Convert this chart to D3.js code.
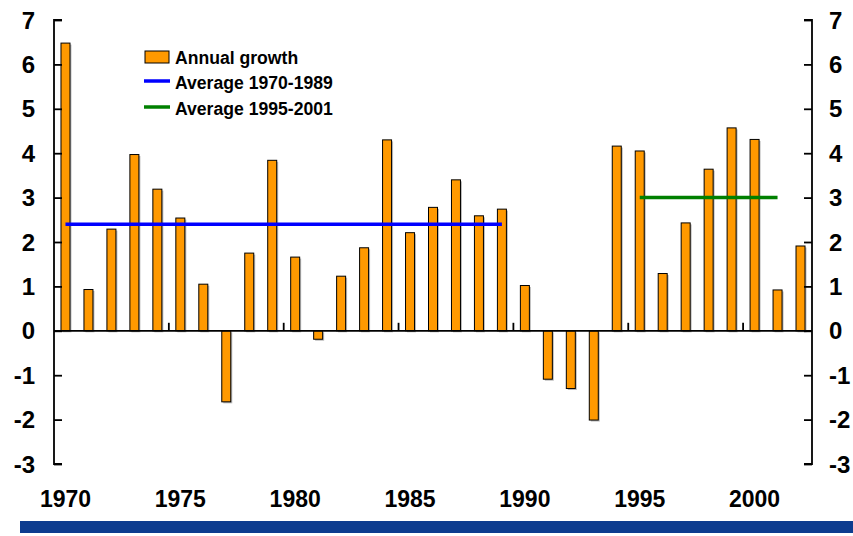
<!DOCTYPE html>
<html><head><meta charset="utf-8">
<script src="https://cdn.jsdelivr.net/npm/d3@7"></script>
<style>body{margin:0;background:#fff;} svg{display:block;font-family:"Liberation Sans",Arial,sans-serif;font-weight:bold;}</style>
</head><body><svg id="c" width="853" height="536"></svg>
<script>
const years = d3.range(1970, 2003);
const growth = [6.48, 0.93, 2.29, 3.97, 3.19, 2.54, 1.05, -1.60, 1.75, 3.84,
  1.66, -0.19, 1.23, 1.87, 4.30, 2.21, 2.78, 3.40, 2.59, 2.74,
  1.02, -1.09, -1.30, -2.01, 4.16, 4.05, 1.29, 2.43, 3.64, 4.57,
  4.31, 0.92, 1.91];
const avg1 = {from: 1970, to: 1989, value: 2.4};
const avg2 = {from: 1995, to: 2001, value: 3.0};
const yTicks = [-3, -2, -1, 0, 1, 2, 3, 4, 5, 6, 7];
const xLabels = [1970, 1975, 1980, 1985, 1990, 1995, 2000];
const legendItems = ["Annual growth", "Average 1970-1989", "Average 1995-2001"];

const svg = d3.select("#c");
const L = 54, R = 812, T = 20, B = 464;
const xb = d3.scaleBand().domain(years).range([L, R]);
const y = d3.scaleLinear().domain([-3, 7]).range([B, T]);
const cx = d => xb(d) + xb.bandwidth()/2;

// bars shadow
svg.append("g").selectAll("rect").data(years).join("rect")
  .attr("x", d => cx(d) - 4.5 + 1.5)
  .attr("y", (d,i) => Math.min(y(growth[i]), y(0)) + 1.5)
  .attr("width", 9)
  .attr("height", (d,i) => Math.abs(y(growth[i]) - y(0)))
  .attr("fill", "#bbb");
svg.append("g").selectAll("rect").data(years).join("rect")
  .attr("x", d => cx(d) - 4.5)
  .attr("y", (d,i) => Math.min(y(growth[i]), y(0)))
  .attr("width", 9)
  .attr("height", (d,i) => Math.abs(y(growth[i]) - y(0)))
  .attr("fill", "#ff9900").attr("stroke", "#000").attr("stroke-width", 1);

// average lines
svg.append("line").attr("x1", cx(avg1.from)).attr("x2", cx(avg1.to))
  .attr("y1", y(avg1.value)).attr("y2", y(avg1.value))
  .attr("stroke", "#0000ff").attr("stroke-width", 3.5);
svg.append("line").attr("x1", cx(avg2.from)).attr("x2", cx(avg2.to))
  .attr("y1", y(avg2.value)).attr("y2", y(avg2.value))
  .attr("stroke", "#008000").attr("stroke-width", 3.5);

// left axis
const la = svg.append("g").attr("transform", `translate(${L},0)`)
  .call(d3.axisRight(y).tickValues(yTicks).tickSize(8).tickFormat(""));
la.select(".domain").attr("d", `M8,${T}H0V${B}H8`);
la.selectAll("line, path").attr("stroke", "#000").attr("stroke-width", 1.8);
svg.append("g").selectAll("text").data(yTicks).join("text")
  .attr("x", 35).attr("y", d => y(d) + 8.5).attr("text-anchor", "end")
  .attr("font-size", 24).text(d => d);

// right axis
const ra = svg.append("g").attr("transform", `translate(${R},0)`)
  .call(d3.axisLeft(y).tickValues(yTicks).tickSize(8).tickFormat(""));
ra.select(".domain").attr("d", `M-8,${T}H0V${B}H-8`);
ra.selectAll("line, path").attr("stroke", "#000").attr("stroke-width", 1.8);
svg.append("g").selectAll("text").data(yTicks).join("text")
  .attr("x", 829).attr("y", d => y(d) + 8.5).attr("text-anchor", "start")
  .attr("font-size", 24).text(d => d);

// x axis at zero
svg.append("line").attr("x1", L).attr("x2", R).attr("y1", y(0)).attr("y2", y(0))
  .attr("stroke", "#000").attr("stroke-width", 1.8);
svg.append("g").selectAll("line").data(xLabels.slice(1)).join("line")
  .attr("x1", d => xb(d)).attr("x2", d => xb(d))
  .attr("y1", y(0)).attr("y2", y(0) - 8)
  .attr("stroke", "#000").attr("stroke-width", 1.8);
svg.append("g").selectAll("text").data(xLabels).join("text")
  .attr("x", d => cx(d)).attr("y", 507).attr("text-anchor", "middle")
  .attr("font-size", 23).text(d => d);

// legend
const lg = svg.append("g");
lg.append("rect").attr("x", 145).attr("y", 51).attr("width", 24).attr("height", 12)
  .attr("fill", "#ff9900").attr("stroke", "#000").attr("stroke-width", 1);
lg.append("line").attr("x1", 144).attr("x2", 170).attr("y1", 81).attr("y2", 81)
  .attr("stroke", "#0000ff").attr("stroke-width", 3.5);
lg.append("line").attr("x1", 144).attr("x2", 170).attr("y1", 107).attr("y2", 107)
  .attr("stroke", "#008000").attr("stroke-width", 3.5);
lg.selectAll("text").data(legendItems).join("text")
  .attr("x", 175).attr("y", (d,i) => 63.5 + i*25.5).attr("font-size", 17.6).text(d => d);

// bottom band
svg.append("rect").attr("x", 20).attr("y", 521).attr("width", 833).attr("height", 12).attr("fill", "#0d3c8f");
</script></body></html>
